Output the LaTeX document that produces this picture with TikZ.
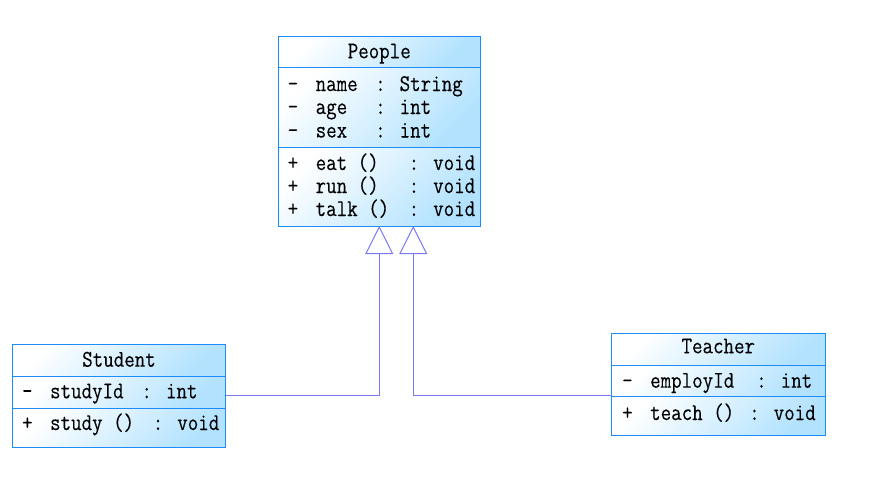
\documentclass[tikz,border=0pt]{standalone}
\usepackage{fontspec}
\newfontfamily\umlfont{Latin Modern Mono}[FakeStretch=0.85,FakeBold=0.2,WordSpace={1,0,0}]
\usetikzlibrary{arrows.meta}
\definecolor{umlborder}{HTML}{1E8CF8}
\definecolor{umlfill}{HTML}{B2E2FF}
\definecolor{umlline}{HTML}{7878F0}
\newcommand{\umlrow}[4]{\makebox[28pt][l]{#1}\makebox[#2][l]{#3}#4}
\tikzset{
  umlpart/.style={draw=umlborder,line width=1pt,top color=white,bottom color=umlfill,shading angle=45,
    anchor=north west,inner sep=0pt,outer sep=0pt},
  umltext/.style={anchor=base west,inner sep=0pt,font=\umlfont\fontsize{24}{28}\selectfont},
  umltitle/.style={anchor=base,inner sep=0pt,font=\umlfont\fontsize{24}{28}\selectfont},
  umlinherit/.style={draw=umlline,line width=1pt,-{Triangle[open,length=28pt,width=28pt]}},
}
\begin{document}
\begin{tikzpicture}[x=1pt,y=-1pt]
\useasboundingbox (0,0) rectangle (881,485);
% People
\node (people-title) [umlpart,minimum width=202.5pt,minimum height=31.3pt] at (278,36) {};
\node (people-attr) [umlpart,minimum width=202.5pt,minimum height=80pt] at (people-title.south west) {};
\node (people-ops) [umlpart,minimum width=202.5pt,minimum height=78.7pt] at (people-attr.south west) {};
\node (people-name) [umltitle] at (379.25,58.3) {People};
\node (pa1) [umltext] at (287.5,91) {\umlrow{-}{59.5pt}{name}{: String}};
\node (pa2) [umltext] at (287.5,114) {\umlrow{-}{59.5pt}{age}{: int}};
\node (pa3) [umltext] at (287.5,137.5) {\umlrow{-}{59.5pt}{sex}{: int}};
\node (po1) [umltext] at (287.5,170) {\umlrow{+}{93pt}{eat ()}{: void}};
\node (po2) [umltext] at (287.5,193) {\umlrow{+}{93pt}{run ()}{: void}};
\node (po3) [umltext] at (287.5,216) {\umlrow{+}{93pt}{talk ()}{: void}};
% Student
\node (student-title) [umlpart,minimum width=213.4pt,minimum height=32.4pt] at (12.3,344.3) {};
\node (student-attr) [umlpart,minimum width=213.4pt,minimum height=31.6pt] at (student-title.south west) {};
\node (student-ops) [umlpart,minimum width=213.4pt,minimum height=39pt] at (student-attr.south west) {};
\node (student-name) [umltitle] at (119,366.7) {Student};
\node (sa1) [umltext] at (21.9,398.3) {\umlrow{-}{91.4pt}{studyId}{: int}};
\node (so1) [umltext] at (21.9,430) {\umlrow{+}{102.7pt}{study ()}{: void}};
% Teacher
\node (teacher-title) [umlpart,minimum width=213.3pt,minimum height=32.4pt] at (611.7,333.3) {};
\node (teacher-attr) [umlpart,minimum width=213.3pt,minimum height=31pt] at (teacher-title.south west) {};
\node (teacher-ops) [umlpart,minimum width=213.3pt,minimum height=39pt] at (teacher-attr.south west) {};
\node (teacher-name) [umltitle] at (718.3,353.3) {Teacher};
\node (ta1) [umltext] at (622,387.7) {\umlrow{-}{106pt}{employId}{: int}};
\node (to1) [umltext] at (622,420) {\umlrow{+}{99pt}{teach ()}{: void}};
%
\draw[umlinherit] ([yshift=-2.5pt]student-attr.east) -| (people-ops.south);
\draw[umlinherit] ([yshift=1.5pt]teacher-attr.south west) -| ([xshift=34pt]people-ops.south);
\end{tikzpicture}
\end{document}
